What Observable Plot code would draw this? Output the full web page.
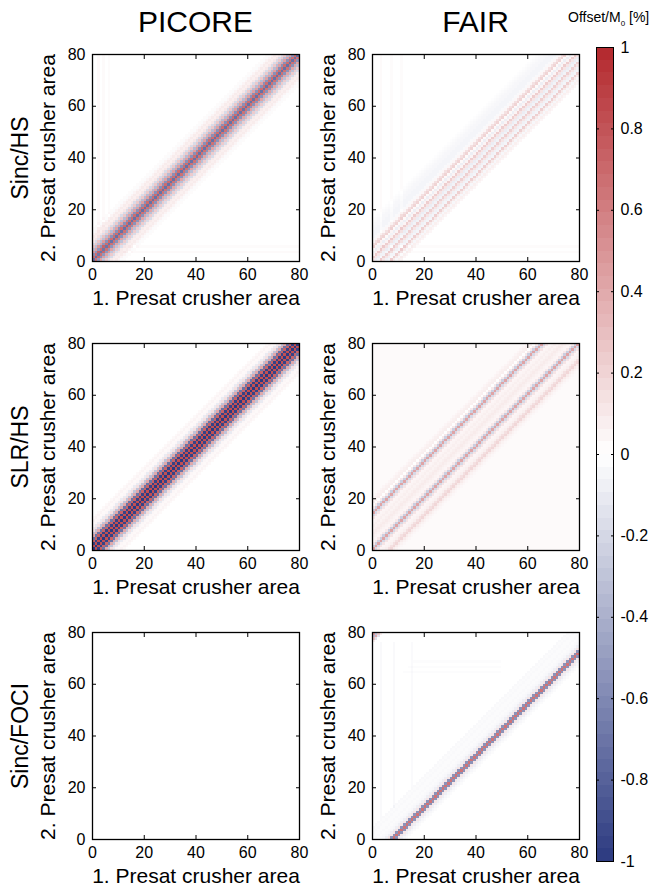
<!DOCTYPE html>
<html>
<head>
<meta charset="utf-8">
<script src="https://cdn.jsdelivr.net/npm/d3@7"></script>
<script src="https://cdn.jsdelivr.net/npm/@observablehq/plot@0.6"></script>
<style>
  html, body { margin: 0; padding: 0; background: white; }
  body { width: 654px; height: 890px; overflow: hidden; position: relative;
         font-family: "Liberation Sans", Arial, Helvetica, sans-serif; color: black; }
  .abs { position: absolute; }
</style>
</head>
<body>
<div id="root"></div>
<script>
// ---------------- data ----------------
const columnTitles = ["PICORE", "FAIR"];
const rowTitles = ["Sinc/HS", "SLR/HS", "Sinc/FOCI"];
const xLabel = "1. Presat crusher area";
const yLabel = "2. Presat crusher area";
const axisTicks = [0, 20, 40, 60, 80];
const cbTicks = [1, 0.8, 0.6, 0.4, 0.2, 0, -0.2, -0.4, -0.6, -0.8, -1];
const cbTitle = "Offset/M";

// diagonal offset (2. area - 1. area, in grid cells) for each profile entry
const diagOffsets = [-20,-19,-18,-17,-16,-15,-14,-13,-12,-11,-10,-9,-8,-7,-6,-5,-4,-3,-2,-1,0,
                     1,2,3,4,5,6,7,8,9,10,11,12,13,14,15,16,17,18,19,20];

// offset [%] along the diagonal profile of each panel
const picoreSincHS = [0,0,0,0,0,0,0,0, 0.02,-0.02,0.05,0.09,0.07,0.1,-0.18,0.24,-0.32,0.42,-0.55,0.66,
                      -0.72, 0.68,-0.56,0.44,-0.34,0.25,-0.18,0.11,0.07,0.09,0.05,-0.02,0.02, 0,0,0,0,0,0,0,0];
const fairSincHS   = [0,0,0,0,0,0,0,0,0, 0.04,0.07,-0.04,0.1,0.22,-0.05,-0.07,0.12,0.22,-0.06,-0.09,
                      0.12, 0.23,0.05,-0.08,0.03,0.2,0.14,0.04,-0.03,-0.05,-0.05,-0.05,-0.04,-0.04,-0.03,-0.02,-0.01, 0,0,0,0];
const picoreSlrHS  = [0,0,0,0,0,0,0,0, 0.03,0.05,0.03,0.04,-0.1,0.15,-0.3,0.4,-0.7,0.72,-0.95,0.82,
                      -1, 0.82,-0.95,0.72,-0.7,0.4,-0.3,0.15,-0.1,0.04,0.03,0.05,0.03, 0,0,0,0,0,0,0,0];
const fairSlrHS    = [0,0,0,0,0,0,0,0,0,0, 0.01,0.03,0.07,0.16,0.12,0.05,0.03,0.02,0.1,-0.22,
                      0.4, -0.27,0.08,0.02,0.03,0.05,0.07,0.05,0.03,0.05,0.03,0.02,0.1,-0.22,0.4,-0.27,0.08,-0.03,0.05,0.04,0.02];
const picoreSincFOCI = [0,0,0,0,0,0,0,0,0,0,0,0,0,0,0,0,0,0,0,0,
                        0, 0,0,0,0,0,0,0,0,0,0,0,0,0,0,0,0,0,0,0,0];
const fairSincFOCI = [0,0,0,0,0,0,0, -0.02,-0.04,-0.08,0.12,-0.55,0.65,-0.55,0.12,-0.08,-0.04,-0.03,-0.02,-0.03,
                      -0.02, -0.02,-0.03,-0.02,-0.03, 0,0,0,0,0,0,0,0,0,0,0,0,0,0,0,0];

// uniform background offset of each panel (PICORE/FAIR x Sinc/HS, SLR/HS, Sinc/FOCI)
const panelKeys = ["picoreSincHS", "fairSincHS", "picoreSlrHS", "fairSlrHS", "picoreSincFOCI", "fairSincFOCI"];
const panelBase = [0, 0, 0, 0.025, 0, 0];

// faint straight stripes (column "x" or row "y" of the grid)
const stripePanel = ["picoreSincHS","picoreSincHS","picoreSincHS","picoreSincHS","picoreSincHS",
                     "fairSincHS","fairSincHS","fairSincHS","fairSincHS","fairSincHS",
                     "fairSincFOCI","fairSincFOCI","fairSincFOCI","fairSincFOCI","fairSincFOCI","fairSincFOCI"];
const stripeAxis  = ["x","x","x","y","y", "x","x","x","y","y", "x","x","x","y","y","y"];
const stripeIndex = [2,4,6,3,5, 3,7,11,3,5, 3,8,15,64,66,68];
const stripeFrom  = [0,0,0,0,0, 0,0,0,0,0, 8,12,20,12,14,16];
const stripeTo    = [80,80,80,80,80, 80,80,80,80,80, 76,76,76,50,50,50];
const stripeValue = [0.03,0.025,0.02,0.025,0.02, 0.025,0.02,0.02,0.02,0.02, -0.03,-0.03,-0.025,-0.015,-0.015,-0.015];

// small corner patch in FAIR Sinc/FOCI
const blobX = [0,1,2,3,0,1,2,0,1,0];
const blobY = [79,79,79,79,78,78,78,77,77,76];
const blobV = [0.45,-0.3,0.25,0.08,-0.35,0.4,-0.15,0.3,-0.15,0.08];

// ---------------- build ----------------
const N = axisTicks[axisTicks.length - 1];
function buildCells(key, profile, base) {
  const grid = [];
  for (let xi = 0; xi < N; xi++) {
    grid.push([]);
    for (let yi = 0; yi < N; yi++) {
      const k = (yi - xi) - diagOffsets[0];
      grid[xi].push(base + (k >= 0 && k < profile.length ? profile[k] : 0));
    }
  }
  stripePanel.forEach((p, i) => {
    if (p !== key) return;
    for (let t = stripeFrom[i]; t < stripeTo[i]; t++) {
      if (stripeAxis[i] === "x") grid[stripeIndex[i]][t] += stripeValue[i];
      else grid[t][stripeIndex[i]] += stripeValue[i];
    }
  });
  if (key === "fairSincFOCI") blobX.forEach((bx, i) => { grid[bx][blobY[i]] += blobV[i]; });
  const cells = [];
  for (let xi = 0; xi < N; xi++) for (let yi = 0; yi < N; yi++) {
    const v = grid[xi][yi];
    if (Math.abs(v) > 0.004) cells.push({x1: xi, x2: xi + 1, y1: yi, y2: yi + 1, v});
  }
  return cells;
}
const profiles = [picoreSincHS, fairSincHS, picoreSlrHS, fairSlrHS, picoreSincFOCI, fairSincFOCI];

const FONT = '"Liberation Sans", Arial, Helvetica, sans-serif';
const colorScale = {type: "linear", domain: [-1, 0, 1], range: ["#2c3a80", "#ffffff", "#b3282d"], interpolate: "rgb", clamp: true};

const root = document.getElementById("root");
function place(node, left, top, w) {
  const d = document.createElement("div");
  d.className = "abs";
  d.style.left = left + "px"; d.style.top = top + "px";
  if (w) d.style.width = w + "px";
  d.appendChild(node);
  root.appendChild(d);
  return d;
}
function textDiv(txt, left, top, w, h, size, rotate) {
  const d = document.createElement("div");
  d.className = "abs";
  d.style.left = left + "px"; d.style.top = top + "px";
  d.style.width = w + "px"; d.style.height = h + "px";
  d.style.lineHeight = h + "px"; d.style.textAlign = "center";
  d.style.fontSize = size + "px"; d.style.whiteSpace = "nowrap";
  if (rotate) d.style.transform = `rotate(${rotate}deg)`;
  d.textContent = txt;
  root.appendChild(d);
  return d;
}

// panel geometry
const plotLeft = [92, 372];
const plotTop = [54, 343, 632];
const PW = 207, PH = 207;
const mL = 60, mR = 10, mT = 10, mB = 55;
const mid = (axisTicks[0] + N) / 2;

function panelPlot(cells) {
  return Plot.plot({
    width: PW + mL + mR, height: PH + mT + mB,
    marginLeft: mL, marginRight: mR, marginTop: mT, marginBottom: mB,
    x: {domain: [axisTicks[0], N], label: null},
    y: {domain: [axisTicks[0], N], label: null},
    color: colorScale,
    style: {fontFamily: FONT, fontSize: "16px", color: "black", background: "transparent", overflow: "visible"},
    marks: [
      Plot.rect(cells, {x1: "x1", x2: "x2", y1: "y1", y2: "y2", fill: "v", shapeRendering: "crispEdges"}),
      Plot.axisX({anchor: "bottom", ticks: axisTicks, tickSize: -4, tickPadding: 11, tickFormat: d => String(d), label: null}),
      Plot.axisX({anchor: "top", ticks: axisTicks, tickSize: -4, tickFormat: () => "", label: null}),
      Plot.axisY({anchor: "left", ticks: axisTicks, tickSize: -4, tickPadding: 11, tickFormat: d => String(d), label: null}),
      Plot.axisY({anchor: "right", ticks: axisTicks, tickSize: -4, tickFormat: () => "", label: null}),
      Plot.frame({stroke: "black", strokeWidth: 1.3}),
      Plot.text([xLabel], {text: d => d, x: mid, y: axisTicks[0], dy: 37, fontSize: 21, lineAnchor: "middle"}),
      Plot.text([yLabel], {text: d => d, x: axisTicks[0], y: mid, dx: -44, rotate: -90, fontSize: 21, lineAnchor: "middle"})
    ]
  });
}

panelKeys.forEach((key, i) => {
  const col = i % 2, row = Math.floor(i / 2);
  const cells = buildCells(key, profiles[i], panelBase[i]);
  place(panelPlot(cells), plotLeft[col] - mL, plotTop[row] - mT, PW + mL + mR);
});

// titles
columnTitles.forEach((t, c) => textDiv(t, plotLeft[c] + PW / 2 - 100, 6, 200, 32, 30));
rowTitles.forEach((t, r) => textDiv(t, 20 - 100, plotTop[r] + PH / 2 - 14, 200, 28, 23, -90));

// colorbar
const cbTop = 47, cbBottom = 861, cbLeft = 596, cbW = 17;
const levels = d3.range(64).map(i => ({y1: -1 + i * 2 / 64, y2: -1 + (i + 1) * 2 / 64, v: -1 + (i + 0.5) * 2 / 64}));
const cbmT = 8, cbmB = 8, cbmL = 1, cbmR = 45;
const cb = Plot.plot({
  width: cbW + cbmL + cbmR, height: (cbBottom - cbTop) + cbmT + cbmB,
  marginLeft: cbmL, marginRight: cbmR, marginTop: cbmT, marginBottom: cbmB,
  x: {domain: [0, 1], axis: null},
  y: {domain: [-1, 1], label: null},
  color: colorScale,
  style: {fontFamily: FONT, fontSize: "16px", color: "black", background: "transparent", overflow: "visible"},
  marks: [
    Plot.rect(levels, {x1: 0, x2: 1, y1: "y1", y2: "y2", fill: "v", shapeRendering: "crispEdges"}),
    Plot.axisY({anchor: "right", ticks: cbTicks, tickSize: -3, tickPadding: 10, tickFormat: d => String(d), label: null}),
    Plot.axisY({anchor: "left", ticks: cbTicks, tickSize: -3, tickFormat: () => "", label: null}),
    Plot.frame({stroke: "black", strokeWidth: 1})
  ]
});
place(cb, cbLeft - cbmL, cbTop - cbmT, cbW + cbmL + cbmR);

const cbt = document.createElement("div");
cbt.className = "abs";
cbt.style.left = "568px"; cbt.style.top = "9px"; cbt.style.fontSize = "14px"; cbt.style.whiteSpace = "nowrap";
cbt.innerHTML = cbTitle + '<sub style="font-size:8px">0</sub> [%]';
root.appendChild(cbt);
</script>
</body>
</html>
